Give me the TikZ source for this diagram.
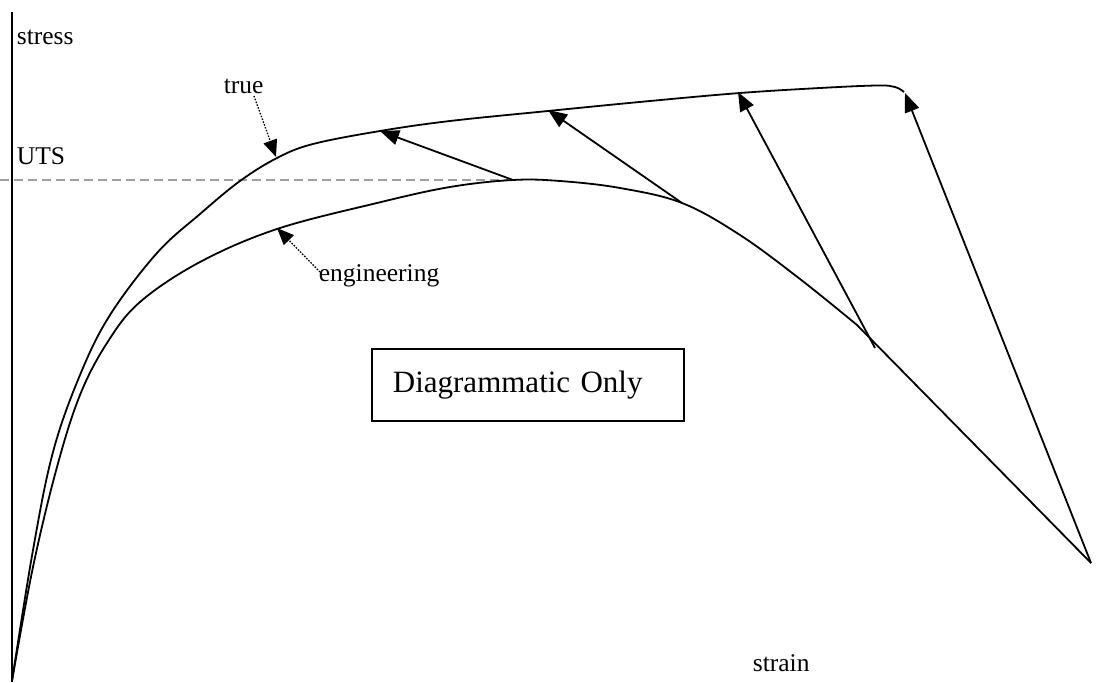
\documentclass[tikz,border=0pt]{standalone}
\usepackage{fontspec}
\setmainfont{Liberation Serif}
\usetikzlibrary{arrows.meta}

\begin{document}
\begin{tikzpicture}[x=1pt,y=-1pt,line width=1.8pt]
\useasboundingbox (0,0) rectangle (1107,682);
\tikzset{lab/.style={inner sep=0pt,anchor=base west,font=\fontsize{25.5}{30}\selectfont},
	tip/.style={-{Triangle[length=19pt,width=15pt]}},
	pointer/.style={line width=1.3pt,dash pattern=on 1.5pt off 1.5pt,-{Triangle[length=17pt,width=14pt]}}}

% axis and UTS level
\coordinate(o) at (12,682);
\coordinate(top) at (12,12);
\coordinate(u) at (0,180);
\draw (o)--(top);

% points on the engineering curve
\coordinate(e1) at (513,180);
\coordinate(e2) at (682,203);
\coordinate(e3) at (875,348);
\coordinate(e4) at (1091,563);
% points on the true curve
\coordinate(t1) at (380,131);
\coordinate(t2) at (548,110);
\coordinate(t3) at (738,92);
\coordinate(t4) at (905,93);

\draw [gray!75,line width=1.5pt,dash pattern=on 9pt off 5pt](u)--(e1);

\draw plot[smooth,tension=0.6] coordinates{(12,681) (33,550) (53,452) (80,375) (110,315) (157,253) (200,214) (240,181) (277,158) (313,144) (380,131) (450,121) (548,111) (650,101) (740,93) (820,88) (877,85.5) (895,87) (904,92)};
\draw plot[smooth,tension=0.6] coordinates{(12,681) (33,567) (57,467) (80,395) (107,343) (140,302) (200,262) (277,229) (377,203) (450,187) (513,180) (560,181) (620,188) (682,203) (740,235) (800,279) (857,325)}--(e4);

\draw [tip](e1)--(t1);
\draw [tip](e2)--(t2);
\draw [tip](e3)--(t3);
\draw [tip](e4)--(t4);

\node(stress)[lab] at (16,45){stress};
\node(uts)[lab] at (16,164){UTS};
\node(strain)[lab] at (752,671){strain};
\node(tlab)[lab] at (223,94){true};
\node(elab)[lab] at (318,281){engineering};

\coordinate(tp) at (254,96);
\coordinate(tq) at (276,157);
\coordinate(ep) at (320,272);
\coordinate(eq) at (277,228);
\draw [pointer](tp)--(tq);
\draw [pointer](ep)--(eq);

\node(box)[draw,anchor=north west,inner xsep=21pt,inner ysep=0pt,text width=270pt,minimum height=72pt,align=left,font=\fontsize{31}{36}\selectfont] at (371,348){Diagrammatic Only};
\end{tikzpicture}
\end{document}
